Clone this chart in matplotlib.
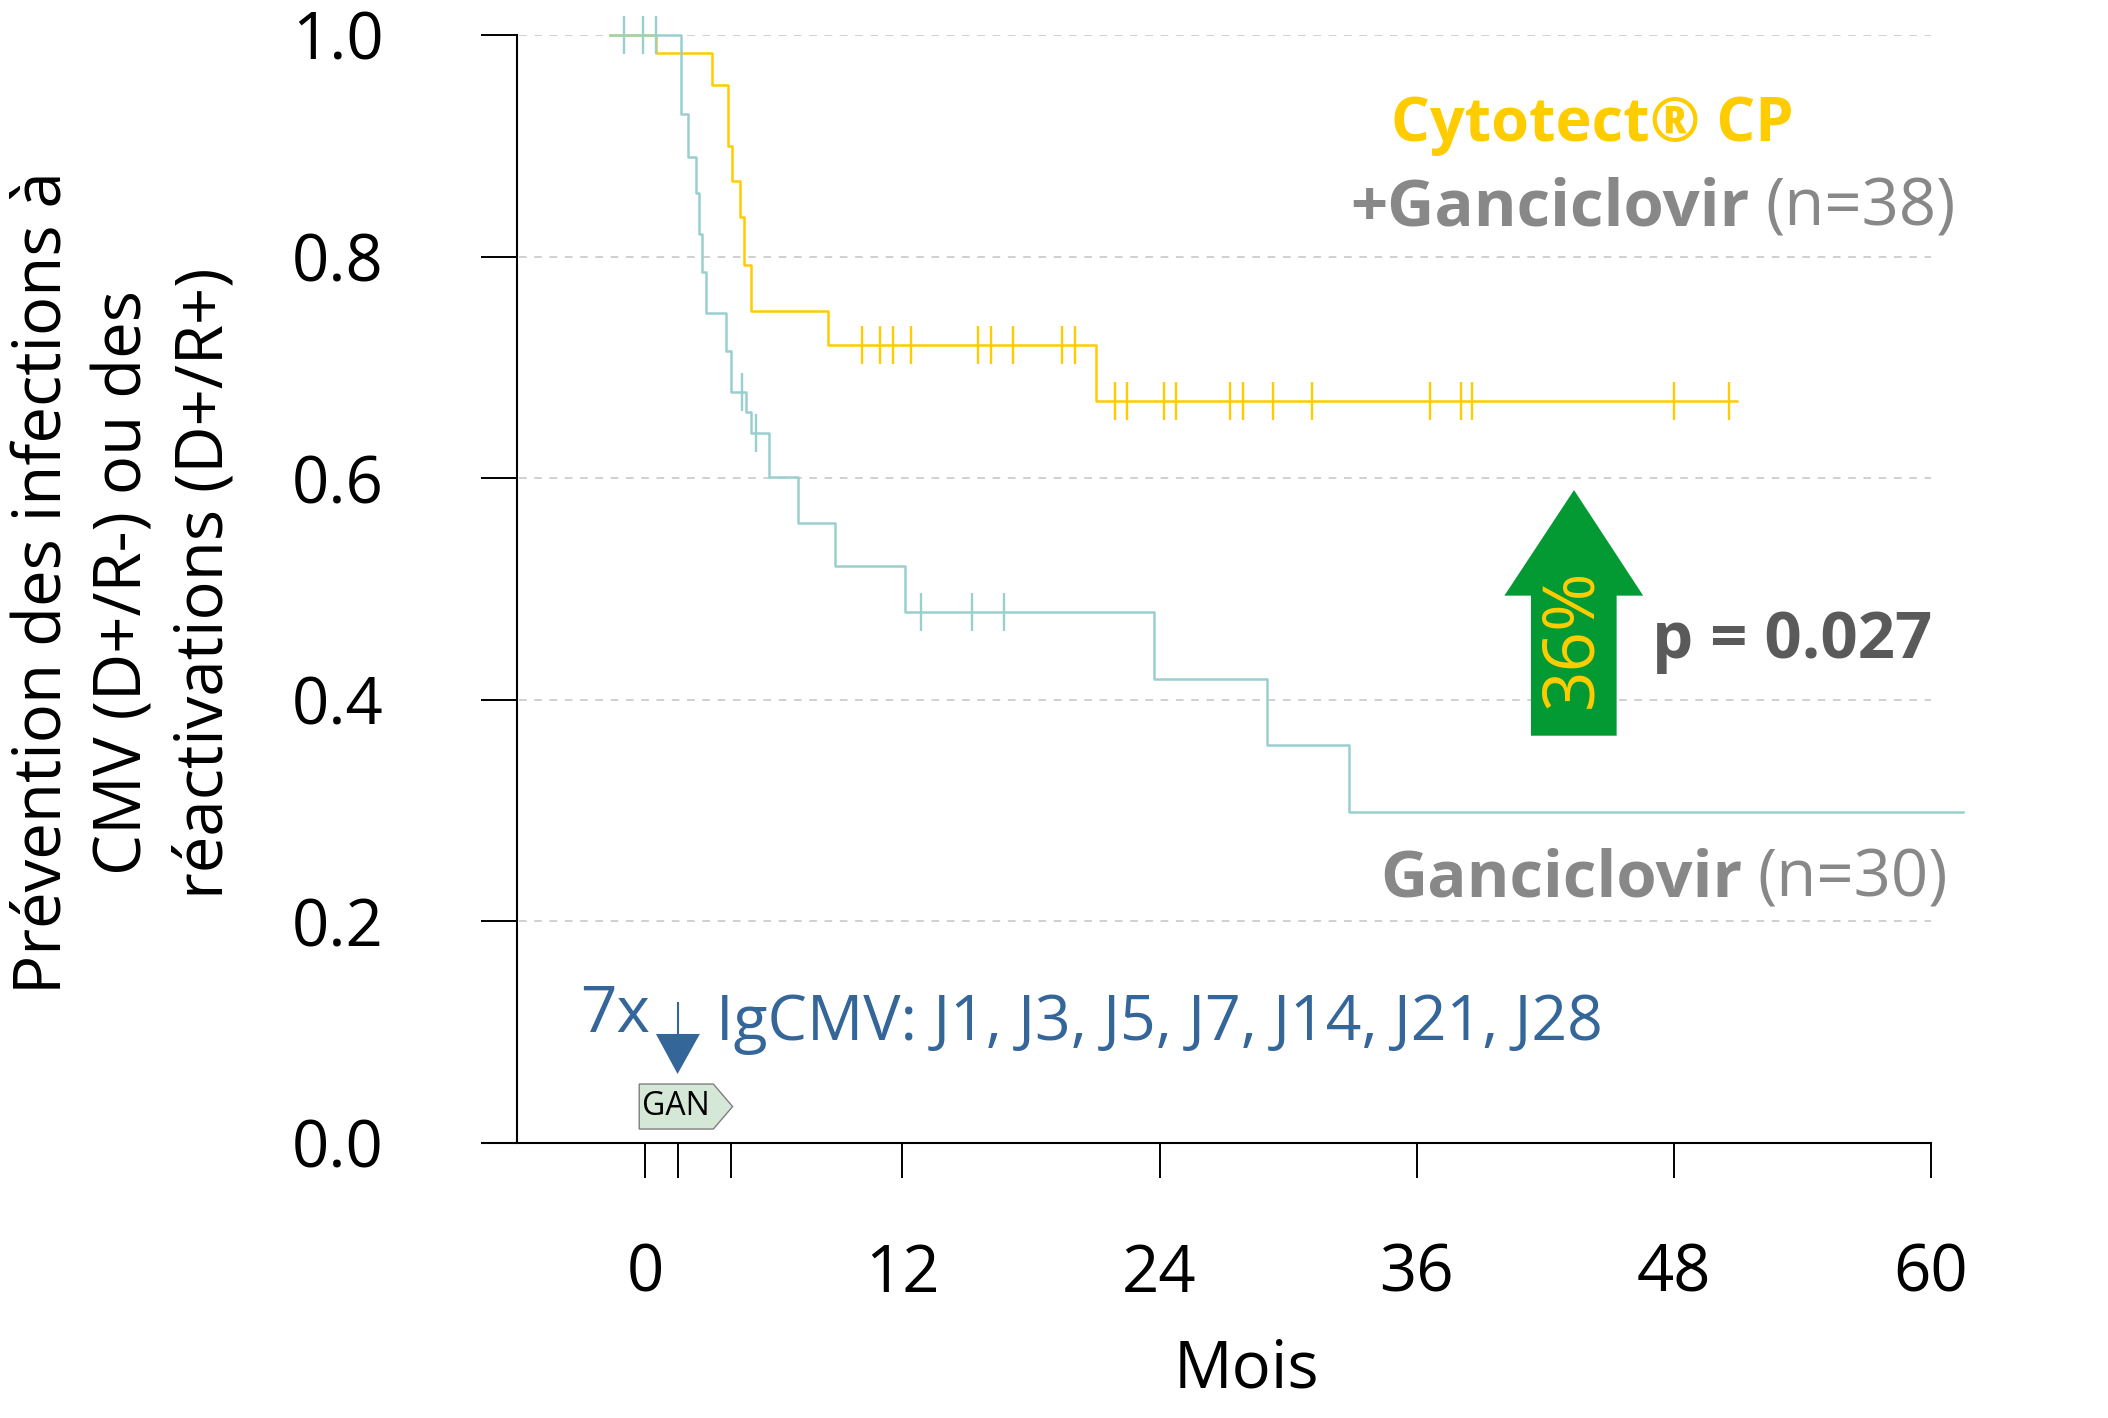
import numpy as np
import matplotlib
matplotlib.use('Agg')
import matplotlib.pyplot as plt
from matplotlib.patches import Polygon

plt.rcParams['font.family'] = ['Open Sans', 'DejaVu Sans']

# ---------------- data ----------------
teal_times = [-1.67, 1.66, 2.0, 2.36, 2.50, 2.62, 2.82, 3.74, 3.98, 4.69, 4.91, 5.77,
              7.12, 8.83, 12.13, 23.75, 29.0, 32.84, 61.5]
teal_surv = [1.0, 0.929, 0.890, 0.857, 0.820, 0.786, 0.749, 0.715, 0.678, 0.660, 0.641,
             0.601, 0.560, 0.521, 0.479, 0.419, 0.359, 0.299, 0.299]
teal_censor = [-0.99, -0.12, 0.48, 4.49, 5.18, 12.86, 15.26, 16.74]

yellow_times = [-1.67, 0.48, 3.09, 3.84, 4.04, 4.40, 4.58, 4.91, 8.53, 21.04, 50.94]
yellow_surv = [1.0, 0.984, 0.955, 0.900, 0.868, 0.836, 0.792, 0.751, 0.720, 0.670, 0.670]
yellow_censor = [10.09, 10.95, 11.54, 12.39, 15.52, 16.13, 17.18, 19.45, 20.04, 21.9, 22.49,
                 24.19, 24.78, 27.31, 27.9, 29.28, 31.13, 36.64, 38.06, 38.57, 48.03, 50.6]

x_ticks = [0, 1.5, 4, 12, 24, 36, 48, 60]
x_ticklabels = ['0', '', '', '12', '24', '36', '48', '60']
y_ticks = [0.0, 0.2, 0.4, 0.6, 0.8, 1.0]
y_ticklabels = ['0.0', '0.2', '0.4', '0.6', '0.8', '1.0']

ylabel = "Prévention des infections à\nCMV (D+/R-) ou des\nréactivations (D+/R+)"
xlabel = "Mois"

YELLOW = '#FFCC00'
TEAL = '#9ACFCF'
GREEN = '#039A34'
BLUE = '#346699'
GRAY = '#888888'
DARK = '#5A5A5A'

W, H = 2108, 1418
fig = plt.figure(figsize=(W / 100, H / 100), dpi=100)
ax = fig.add_axes([482 / W, 1 - 1143 / H, (1973.5 - 482) / W, 1108 / H])
ax.set_xlim(-7.63, 62)
ax.set_ylim(0, 1.0)

# grid
ax.hlines(y_ticks[1:], -5.9, 60, colors='#C4C4C4', lw=1.1, linestyles=(0, (5, 5)), zorder=0)


def km(times, surv, cens, color):
    ax.step(times, surv, where='post', color=color, lw=1.8, clip_on=False, zorder=3)
    t = np.asarray(times)
    s = np.asarray(surv)
    lv = s[np.searchsorted(t, np.asarray(cens), side='right') - 1]
    ax.plot(cens, lv, ls='none', marker='|', ms=28, mew=1.7, color=color,
            clip_on=False, zorder=3)


km(yellow_times, yellow_surv, yellow_censor, YELLOW)
km(teal_times, teal_surv, teal_censor, TEAL)

# spines
for s in ['top', 'right']:
    ax.spines[s].set_visible(False)
ax.spines['left'].set_position(('data', -6))
ax.spines['left'].set_bounds(0, 1.0)
ax.spines['bottom'].set_bounds(-7.63, 60)
for s in ['left', 'bottom']:
    ax.spines[s].set_linewidth(1.5)

ax.set_yticks(y_ticks)
ax.set_yticklabels(y_ticklabels)
ax.set_xticks(x_ticks)
ax.set_xticklabels(x_ticklabels)
ax.tick_params(axis='y', length=25.9, width=1.4, pad=70, labelsize=47)
ax.tick_params(axis='x', length=25.2, width=1.4, pad=46, labelsize=47)

fig.text(1246 / W, 1 - 1387 / H, xlabel, ha='center', va='baseline', fontsize=47)
fig.text(125 / W, 1 - 583 / H, ylabel, rotation=90, ha='center', va='center',
         multialignment='center', fontsize=47, linespacing=1.3)

# legends / labels
ax.text(34.82, 0.9043, 'Cytotect® CP', color=YELLOW, fontsize=44, fontweight='bold',
        ha='left', va='baseline')
t1 = ax.text(32.92, 0.8285, '+Ganciclovir', color=GRAY, fontsize=47, fontweight='bold',
             ha='left', va='baseline')
ax.annotate('(n=38)', xy=(1, 0), xycoords=t1, xytext=(11, 0), textcoords='offset points',
            ha='left', va='bottom', color=GRAY, fontsize=47)
t2 = ax.text(34.29, 0.2229, 'Ganciclovir', color=GRAY, fontsize=47, fontweight='bold',
             ha='left', va='baseline')
ax.annotate('(n=30)', xy=(1, 0), xycoords=t2, xytext=(11, 0), textcoords='offset points',
            ha='left', va='bottom', color=GRAY, fontsize=47)

# green arrow
ax.add_patch(Polygon([(41.34, 0.3676), (45.34, 0.3676), (45.34, 0.4940), (46.58, 0.4940),
                      (43.35, 0.5893), (40.10, 0.4940), (41.34, 0.4940)],
                     closed=True, facecolor=GREEN, edgecolor='none', zorder=4))
ax.text(43.3, 0.4558, '36%', rotation=90, color=YELLOW, fontsize=51, ha='center',
        va='center', zorder=5)
ax.text(46.99, 0.4377, 'p = 0.027', color=DARK, fontsize=47, fontweight='bold',
        ha='left', va='baseline')

# IgCMV annotation
ax.text(-3.06, 0.1002, '7x', color=BLUE, fontsize=46, ha='left', va='baseline')
ax.text(3.28, 0.093, 'IgCMV: J1, J3, J5, J7, J14, J21, J28', color=BLUE, fontsize=45,
        ha='left', va='baseline')
ax.plot([1.5, 1.5], [0.1264, 0.098], color=BLUE, lw=1.5, zorder=4)
ax.add_patch(Polygon([(0.49, 0.0984), (2.54, 0.0984), (1.5, 0.0623)], closed=True,
                     facecolor=BLUE, edgecolor='none', zorder=4))

# GAN tag
ax.add_patch(Polygon([(-0.29, 0.0532), (3.17, 0.0532), (4.07, 0.0329), (3.17, 0.0126),
                      (-0.29, 0.0126)], closed=True, facecolor='#D5E8D8',
                     edgecolor='#7F7F7F', lw=1.0, zorder=4))
ax.text(1.44, 0.0329, 'GAN', color='black', fontsize=23, ha='center', va='center', zorder=5)

fig.savefig('out.png', dpi=100)
